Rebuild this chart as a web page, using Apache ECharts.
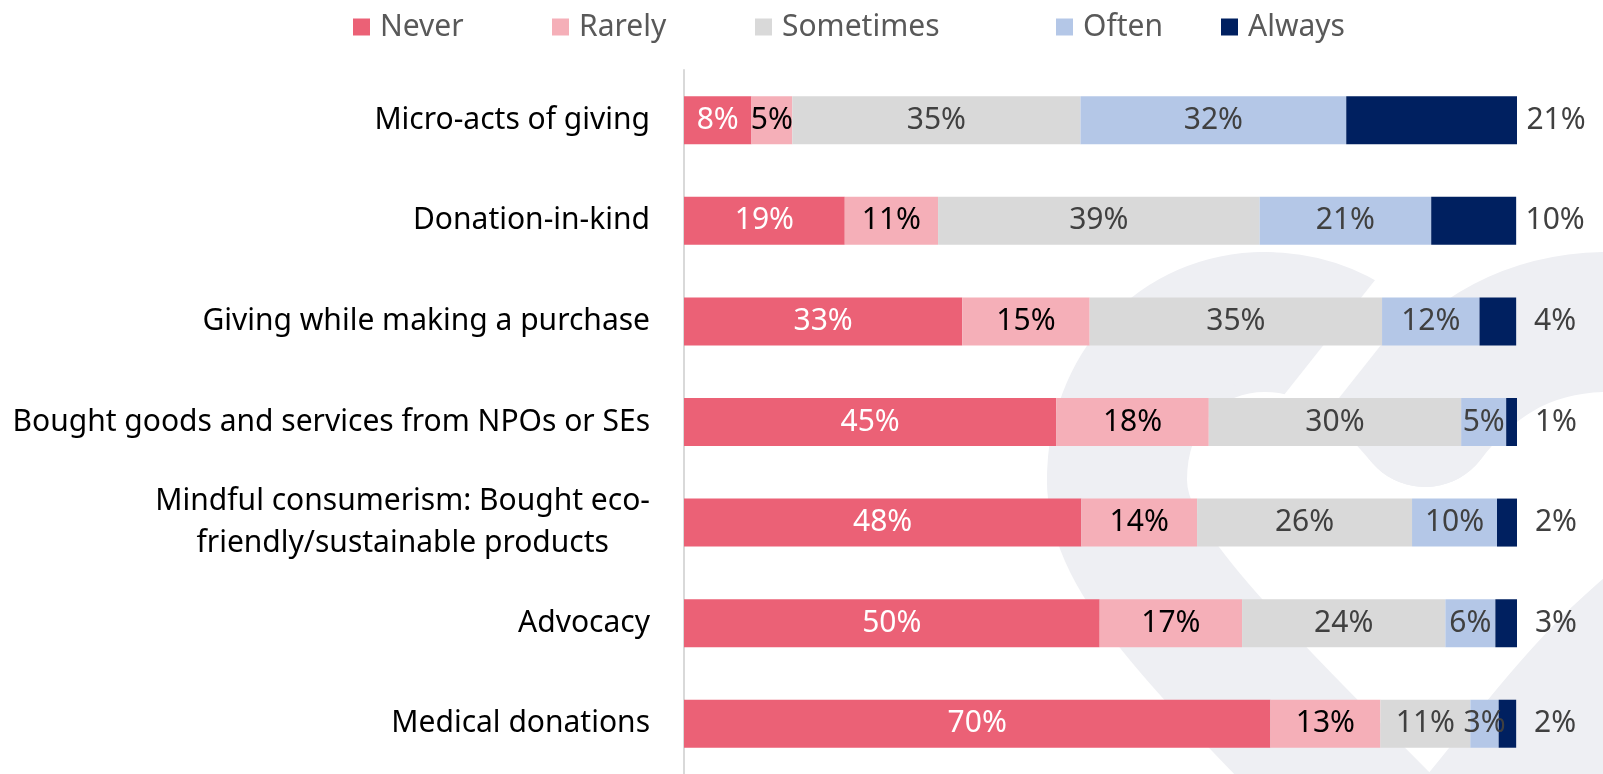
<!DOCTYPE html>
<html>
<head>
<meta charset="utf-8">
<script src="https://cdn.jsdelivr.net/npm/echarts@6/dist/echarts.min.js"></script>
<style>
html,body{margin:0;padding:0;background:#ffffff;}
#chart{width:1603px;height:774px;}
</style>
</head>
<body>
<div id="chart"></div>
<script>
// ---- data (percent of respondents) ----
const categories = [
  'Micro-acts of giving',
  'Donation-in-kind',
  'Giving while making a purchase',
  'Bought goods and services from NPOs or SEs',
  'Mindful consumerism: Bought eco-\nfriendly/sustainable products',
  'Advocacy',
  'Medical donations'
];
const seriesNames = ['Never', 'Rarely', 'Sometimes', 'Often', 'Always'];
const never     = [8.1, 19.3, 33.4, 44.7, 47.7, 49.9, 70.4];
const rarely    = [4.9, 11.2, 15.3, 18.3, 13.9, 17.1, 13.2];
const sometimes = [34.6, 38.6, 35.1, 30.3, 25.8, 24.4, 10.8];
const often     = [31.9, 20.6, 11.7, 5.4, 10.2, 6.0, 3.4];
const always    = [20.5, 10.2, 4.4, 1.3, 2.4, 2.7, 2.1];

// ---- styles ----
const FONT = 'Noto Sans';
const FS = 30;
const colors = ['#EB6176', '#F5AFB8', '#D9D9D9', '#B4C7E7', '#002060'];
const labelColors = ['#ffffff', '#000000', '#404040', '#404040', '#404040'];
const legendLefts = [353, 552, 755, 1056, 1221];
const values = [never, rarely, sometimes, often, always];

// background heart watermark (decoration), drawn as bezier segments
const heartSegs = [
  [1434, 876, 1200, 642, 1117, 560, 1117, 480],
  [1117, 480, 1117, 390, 1180, 322, 1265, 322],
  [1265, 322, 1340, 322, 1385, 370, 1425, 417],
  [1425, 417, 1465, 365, 1520, 322, 1610, 322],
  [1610, 322, 1690, 322, 1750, 380, 1750, 470],
  [1750, 470, 1750, 560, 1680, 600, 1620, 658],
  [1620, 658, 1560, 715, 1500, 800, 1434, 876]
];
const heartGraphics = heartSegs.map(s => ({
  type: 'bezierCurve', z: 0, silent: true,
  shape: {x1: s[0], y1: s[1], cpx1: s[2], cpy1: s[3], cpx2: s[4], cpy2: s[5], x2: s[6], y2: s[7]},
  style: {fill: null, stroke: '#eeeff3', lineWidth: 140, lineCap: 'round'}
}));
heartGraphics.push({
  type: 'line', z: 1, silent: true,
  shape: {x1: 1277, y1: 440, x2: 1445, y2: 228},
  style: {stroke: '#ffffff', lineWidth: 45}
});

const chart = echarts.init(document.getElementById('chart'), null, {renderer: 'canvas'});

const option = {
  backgroundColor: '#ffffff',
  animation: false,
  graphic: heartGraphics,
  legend: seriesNames.map((n, i) => ({
    data: [n],
    left: legendLefts[i],
    top: 12,
    padding: 0,
    icon: 'rect',
    itemWidth: 17,
    itemHeight: 17,
    selectedMode: false,
    textStyle: {fontSize: FS, lineHeight: 30, fontFamily: FONT, color: '#595959', padding: [0, 0, 0, 5]}
  })),
  grid: {left: 684, right: 86, top: 70, height: 709},
  xAxis: {
    type: 'value', min: 0, max: 100, show: false
  },
  yAxis: {
    type: 'category',
    data: categories,
    inverse: true,
    axisTick: {show: false},
    axisLine: {show: true, lineStyle: {color: '#d9d9d9', width: 2}},
    splitLine: {show: false},
    axisLabel: {
      margin: 34,
      formatter: v => v.split('\n').map(l => '{c|' + l + '}').join('\n'),
      rich: {
        c: {align: 'center', fontSize: FS, fontFamily: FONT, color: '#000000', lineHeight: 42}
      }
    }
  },
  series: seriesNames.map((name, i) => ({
    name: name,
    type: 'bar',
    stack: 'total',
    barWidth: 48,
    z: 2,
    data: values[i],
    itemStyle: {color: colors[i]},
    label: i < 4 ? {
      show: true,
      position: 'inside',
      formatter: p => Math.round(p.value) + '%',
      color: labelColors[i],
      fontSize: FS,
      fontFamily: FONT
    } : {
      show: true,
      position: 'right',
      distance: 39,
      align: 'center',
      formatter: p => Math.round(p.value) + '%',
      color: labelColors[i],
      fontSize: FS,
      fontFamily: FONT
    }
  }))
};
chart.setOption(option);
</script>
</body>
</html>
